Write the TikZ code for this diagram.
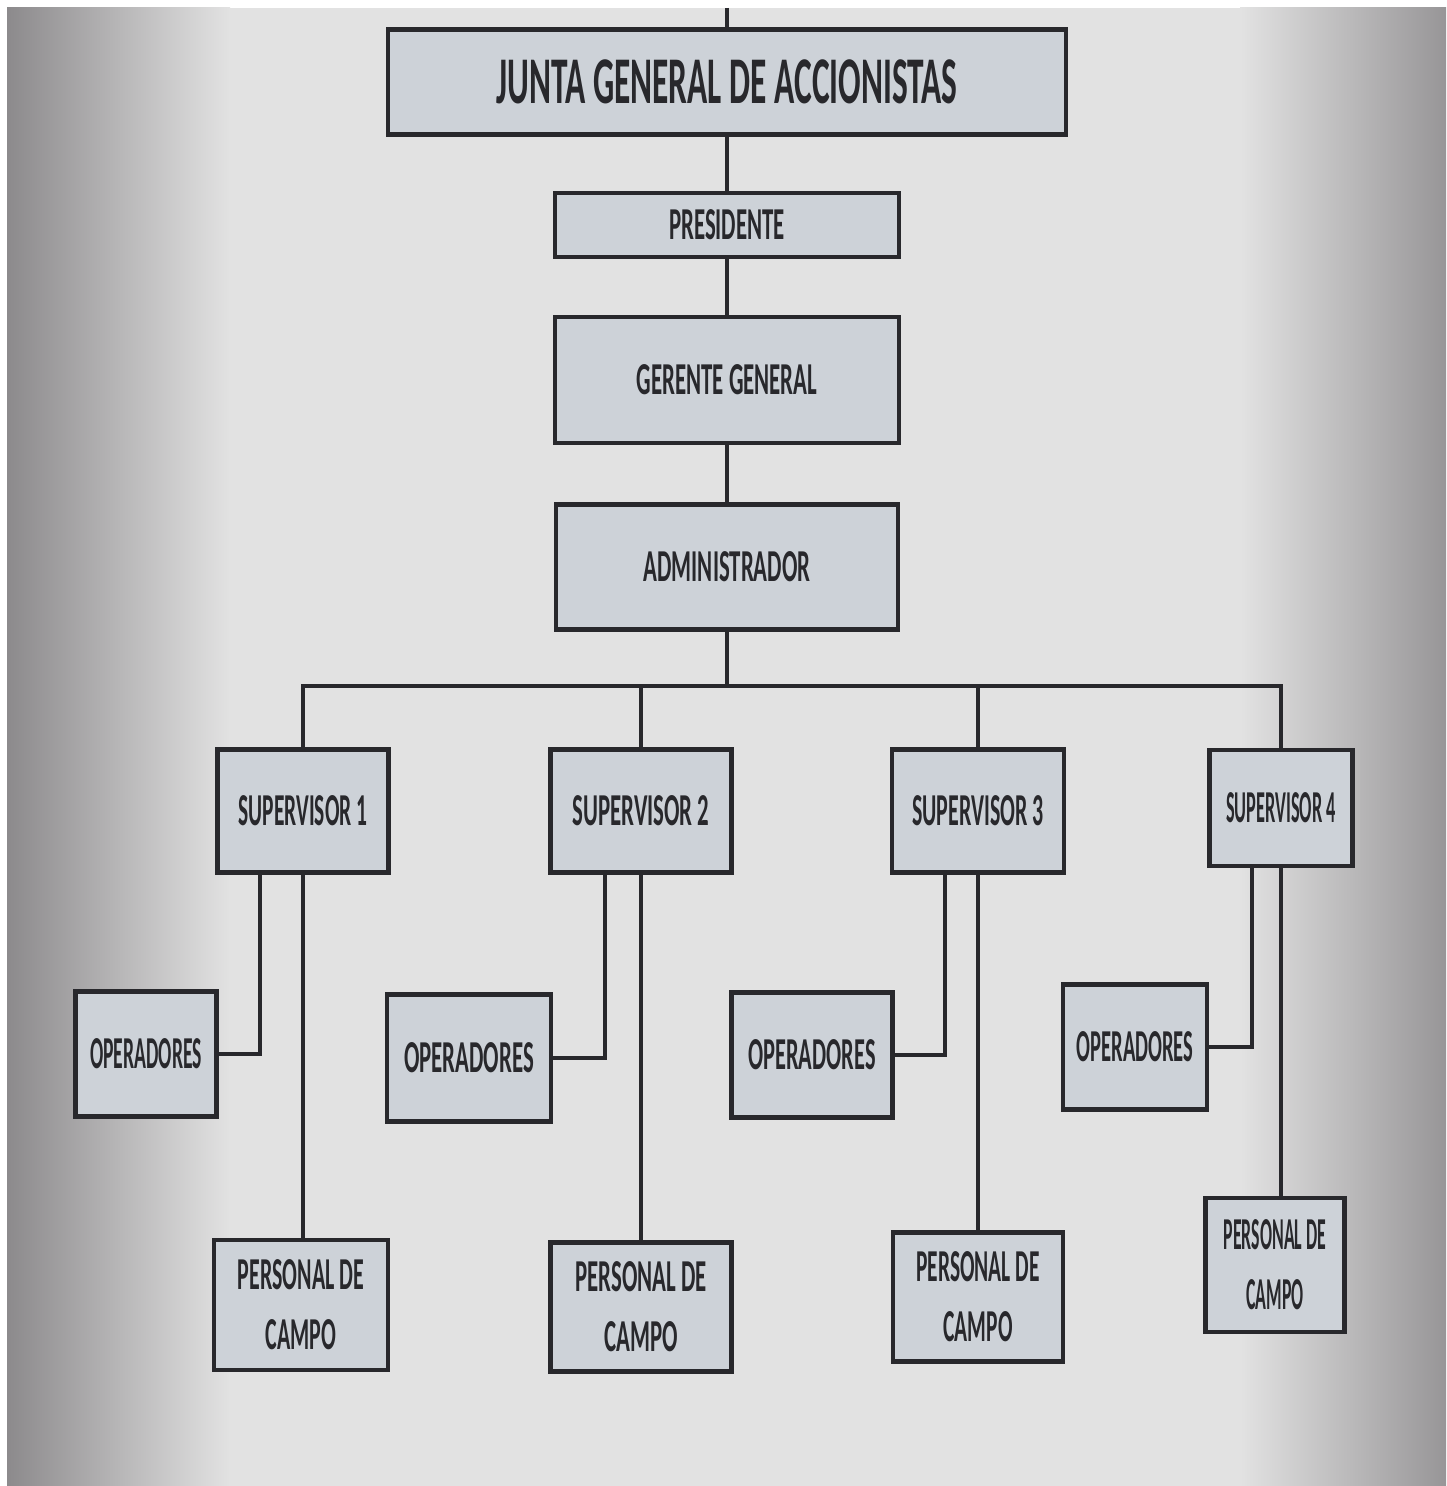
\documentclass[tikz,border=0pt]{standalone}
\usepackage{fontspec}
\setmainfont{Carlito}
\usepackage{xcolor}
\usetikzlibrary{
    positioning,
    calc
}
\definecolor{boxgray}{RGB}{205,210,216}
\definecolor{inkgray}{RGB}{40,40,44}
\definecolor{papergray}{RGB}{226,226,226}
\definecolor{edgegray}{RGB}{140,138,140}
\newcommand{\tallbox}[2][1]{\scalebox{#1}[2]{#2}}

\begin{document}
\begin{tikzpicture}[x=0.02cm, y=-0.02cm, org-node/.style={
                rectangle, draw=inkgray, fill=boxgray, line width=2.6pt, text=inkgray, text centered, inner sep=0pt, font=\bfseries\fontsize{13}{34}\selectfont},
                org-line/.style={draw=inkgray, line width=2.2pt}]
                \useasboundingbox (0,0) rectangle (1446,1486);
                \fill[white] (0,0) rectangle (1446,1486);
                \fill[papergray] (7,8) rectangle (1446,1486);
                \shade[left color=edgegray, right color=papergray] (7,8) rectangle (230,1486);
                \shade[left color=papergray, right color=edgegray!90] (1240,8) rectangle (1446,1486);
                \node[org-node, minimum width=13.56cm, minimum height=2.1cm, font=\bfseries\fontsize{19}{23}\selectfont] (junta) at (727,82) {\tallbox{JUNTA GENERAL DE ACCIONISTAS}};
                \node[org-node, minimum width=6.88cm, minimum height=1.28cm] (presidente) at (727,225) {\tallbox{PRESIDENTE}};
                \node[org-node, minimum width=6.88cm, minimum height=2.52cm] (gerente) at (727,380) {\tallbox{GERENTE GENERAL}};
                \node[org-node, minimum width=6.84cm, minimum height=2.5cm] (admin) at (727,567) {\tallbox{ADMINISTRADOR}};
                \node[org-node, minimum width=3.42cm, minimum height=2.46cm] (sup1) at (303,811) {\tallbox[0.94]{SUPERVISOR 1}};
                \node[org-node, minimum width=3.62cm, minimum height=2.46cm] (sup2) at (641,811) {\tallbox{SUPERVISOR 2}};
                \node[org-node, minimum width=3.44cm, minimum height=2.46cm] (sup3) at (978,811) {\tallbox[0.96]{SUPERVISOR 3}};
                \node[org-node, minimum width=2.86cm, minimum height=2.32cm] (sup4) at (1281,808) {\tallbox[0.8]{SUPERVISOR 4}};
                \node[org-node, minimum width=2.82cm, minimum height=2.5cm] (oper1) at (146,1054) {\tallbox[0.86]{OPERADORES}};
                \node[org-node, minimum width=3.28cm, minimum height=2.54cm] (oper2) at (469,1058) {\tallbox{OPERADORES}};
                \node[org-node, minimum width=3.22cm, minimum height=2.5cm] (oper3) at (812,1055) {\tallbox[0.98]{OPERADORES}};
                \node[org-node, minimum width=2.88cm, minimum height=2.5cm] (oper4) at (1135,1047) {\tallbox[0.9]{OPERADORES}};
                \node[org-node, align=center, minimum width=3.48cm, minimum height=2.6cm] (pers1) at (301,1305) {\tallbox[0.96]{PERSONAL DE}\\ \tallbox[0.96]{CAMPO}};
                \node[org-node, align=center, minimum width=3.62cm, minimum height=2.58cm] (pers2) at (641,1307) {\tallbox{PERSONAL DE}\\ \tallbox{CAMPO}};
                \node[org-node, align=center, minimum width=3.4cm, minimum height=2.58cm] (pers3) at (978,1297) {\tallbox[0.94]{PERSONAL DE}\\ \tallbox[0.94]{CAMPO}};
                \node[org-node, align=center, minimum width=2.78cm, minimum height=2.68cm] (pers4) at (1275,1265) {\tallbox[0.78]{PERSONAL DE}\\ \tallbox[0.78]{CAMPO}};
                \coordinate (top) at (727,8);
                \coordinate (bus) at (727,686);
                \draw[org-line] (top) -- (junta.north);
                \draw[org-line] (junta.south) -- (presidente.north);
                \draw[org-line] (presidente.south) -- (gerente.north);
                \draw[org-line] (gerente.south) -- (admin.north);
                \draw[org-line] (admin.south) -- (bus);
                \draw[org-line] (sup1.north) |- (bus) -| (sup4.north);
                \draw[org-line] (sup2.north) -- (sup2.north |- bus);
                \draw[org-line] (sup3.north) -- (sup3.north |- bus);
                \draw[org-line] ([xshift=-0.86cm]sup1.south) |- (oper1.east);
                \draw[org-line] ([xshift=-0.72cm]sup2.south) |- (oper2.east);
                \draw[org-line] ([xshift=-0.66cm]sup3.south) |- (oper3.east);
                \draw[org-line] ([xshift=-0.58cm]sup4.south) |- (oper4.east);
                \draw[org-line] (sup1.south) -- (sup1.south |- pers1.north);
                \draw[org-line] (sup2.south) -- (sup2.south |- pers2.north);
                \draw[org-line] (sup3.south) -- (sup3.south |- pers3.north);
                \draw[org-line] (sup4.south) -- (sup4.south |- pers4.north);
            \end{tikzpicture}
\end{document}
